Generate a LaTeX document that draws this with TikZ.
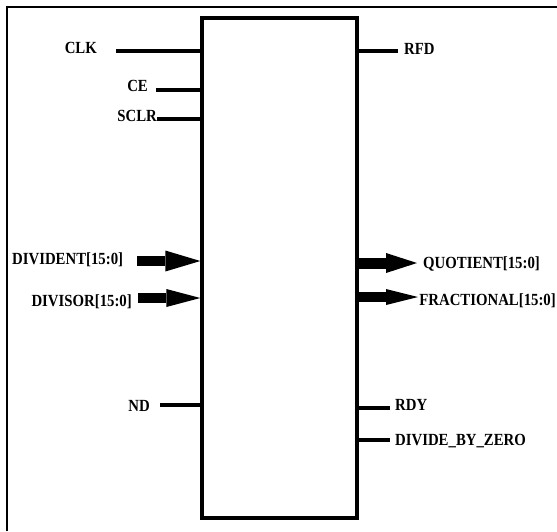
\documentclass[tikz,border=0pt]{standalone}
\usepackage{fontspec}
\setmainfont{Liberation Serif}[FakeStretch=0.87]
\usetikzlibrary{arrows.meta}

\begin{document}
\begin{tikzpicture}[x=1pt,y=-1pt,
    pin/.style={line width=3.2pt},
    bus/.style={line width=10.5pt},
    lbl/.style={font=\fontsize{17}{17}\selectfont\bfseries, inner sep=0pt, text height=11.5pt, text depth=0pt}]
    \useasboundingbox (0,0) rectangle (557,531);
    % frame (cut off on the right and at the bottom)
    \draw[line width=2pt] (7,531) -- (7,7) -- (557,7);
    % divider core
    \node[draw, line width=3.3pt, minimum width=155pt, minimum height=500pt, inner sep=0pt] (core) at (279.5,268) {};

    % single-bit inputs
    \foreach \n/\xs/\ys/\lx/\ly/\txt in {clk/116/51/97/48/CLK, ce/156/90/148/86/CE, sclr/157/119/157/116/SCLR, nd/160/405/150/406/ND} {
        \coordinate (\n) at (\xs,\ys);
        \draw[pin] (\n) -- (\n -| core.west);
        \node[lbl, anchor=east] (\n lbl) at (\lx,\ly) {\txt};
    }
    % single-bit outputs
    \foreach \n/\xs/\ys/\lx/\ly/\txt in {rfd/398/51/404/49/RFD, rdy/390/408/395/405/RDY, dbz/390/440/395/440/DIVIDE\_BY\_ZERO} {
        \coordinate (\n) at (\xs,\ys);
        \draw[pin] (\n -| core.east) -- (\n);
        \node[lbl, anchor=west] (\n lbl) at (\lx,\ly) {\txt};
    }

    % buses
    \coordinate (divident) at (137,261);
    \coordinate (divisor) at (138,298);
    \coordinate (quotient) at (417,263);
    \coordinate (fractional) at (418,297);
    \draw[bus, -{Triangle[length=35pt, width=21pt, line width=0pt]}] (divident) -- (divident -| core.west);
    \draw[bus, line width=10pt, -{Triangle[length=34pt, width=18pt, line width=0pt]}] (divisor) -- (divisor -| core.west);
    \draw[bus, line width=11pt, -{Triangle[length=31pt, width=20pt, line width=0pt]}] (quotient -| core.east) -- (quotient);
    \draw[bus, line width=10pt, -{Triangle[length=32pt, width=16pt, line width=0pt]}] (fractional -| core.east) -- (fractional);

    \node[lbl, anchor=west] (dividentlbl) at (12,259) {DIVIDENT[15:0]};
    \node[lbl, anchor=east] (divisorlbl) at (132,301) {DIVISOR[15:0]};
    \node[lbl, anchor=west] (quotientlbl) at (423,263) {QUOTIENT[15:0]};
    \node[lbl, anchor=east] (fractionallbl) at (556,300) {FRACTIONAL[15:0]};
\end{tikzpicture}
\end{document}
